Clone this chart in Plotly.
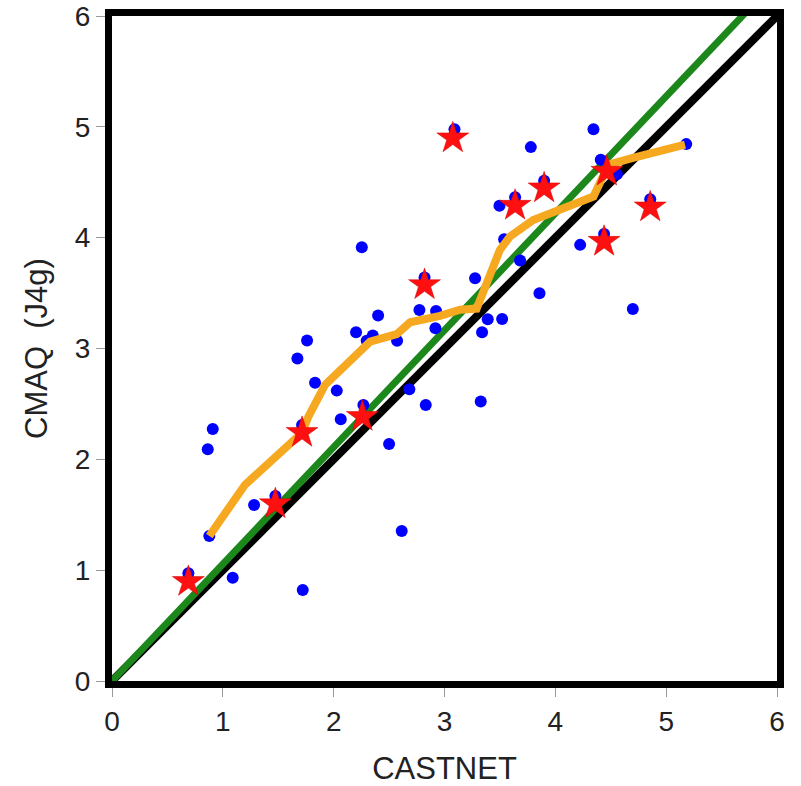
import plotly.graph_objects as go

# Blue dots: all sites (CASTNET obs vs CMAQ J4g)
obs_x = [0.689, 0.878, 0.864, 0.909, 1.089, 1.282, 1.474, 1.721, 1.715, 1.673,
         1.760, 1.832, 2.028, 2.064, 2.268, 2.202, 2.254, 2.298, 2.353, 2.401,
         2.500, 2.572, 2.614, 2.683, 2.774, 2.820, 2.831, 2.924, 2.918, 3.090,
         3.276, 3.327, 3.339, 3.390, 3.496, 3.520, 3.538, 3.637, 3.682, 3.779,
         3.857, 3.899, 4.224, 4.344, 4.410, 4.440, 4.555, 4.699, 4.856, 5.181]
mod_y = [0.972, 1.309, 2.091, 2.274, 0.932, 1.588, 1.670, 0.821, 2.310, 2.909,
         3.072, 2.692, 2.620, 2.362, 2.491, 3.147, 3.914, 3.069, 3.117, 3.297,
         2.139, 3.069, 1.354, 2.633, 3.348, 3.640, 2.491, 3.339, 3.183, 4.979,
         3.634, 2.521, 3.147, 3.264, 4.287, 3.267, 3.986, 4.365, 3.793, 4.817,
         3.499, 4.513, 3.935, 4.979, 4.702, 4.034, 4.573, 3.357, 4.347, 4.844]

# Red stars: highlighted sites
star_x = [0.689, 1.474, 1.715, 2.259, 2.820, 3.075, 3.637, 3.899, 4.440, 4.465, 4.856]
star_y = [0.896, 1.597, 2.241, 2.385, 3.574, 4.898, 4.290, 4.447, 3.965, 4.597, 4.275]

# Orange running-mean curve
curve_x = [0.878, 1.20, 1.715, 1.772, 1.922, 2.329, 2.569, 2.69, 2.96, 3.14,
           3.29, 3.50, 3.59, 3.80, 4.344, 4.42, 4.48, 4.70, 5.17]
curve_y = [1.309, 1.77, 2.240, 2.385, 2.671, 3.062, 3.129, 3.237, 3.294, 3.35,
           3.36, 3.89, 4.01, 4.16, 4.371, 4.52, 4.66, 4.72, 4.84]

# Reference lines
line_x = [0, 6]
one_to_one = [0, 6]
fit_slope = 1.055
fit_y = [fit_slope * v for v in line_x]

ticks = [0, 1, 2, 3, 4, 5, 6]

fig = go.Figure()
fig.add_trace(go.Scatter(x=line_x, y=one_to_one, mode="lines",
                         line=dict(color="black", width=8), showlegend=False))
fig.add_trace(go.Scatter(x=line_x, y=fit_y, mode="lines",
                         line=dict(color="#1c881c", width=7), showlegend=False))
fig.add_trace(go.Scatter(x=obs_x, y=mod_y, mode="markers",
                         marker=dict(color="#0000ff", size=12, line=dict(width=0)),
                         showlegend=False))
fig.add_trace(go.Scatter(x=curve_x, y=curve_y, mode="lines",
                         line=dict(color="#f6a820", width=8), showlegend=False))
fig.add_trace(go.Scatter(x=star_x, y=star_y, mode="markers",
                         marker=dict(symbol="star", color="#ff1010", size=24,
                                     line=dict(width=0.5, color="#d00000")),
                         showlegend=False))

axis_common = dict(range=[0, 6], tickvals=ticks, ticktext=[str(t) for t in ticks],
                   showgrid=False, zeroline=False, showline=True, linecolor="black",
                   linewidth=7, mirror=True, ticks="outside", ticklen=9,
                   tickcolor="#999999", tickwidth=1, automargin=False,
                   tickfont=dict(family="Liberation Sans", size=28, color="#222222"))

fig.update_layout(
    width=801, height=786,
    margin=dict(l=112, r=24, t=16, b=105),
    paper_bgcolor="white", plot_bgcolor="white",
    xaxis=dict(**axis_common,
               title=dict(text="CASTNET", standoff=24,
                          font=dict(family="Liberation Sans", size=31, color="#222222"))),
    yaxis=dict(**axis_common,
               title=dict(text="CMAQ  (J4g)", standoff=20,
                          font=dict(family="Liberation Sans", size=31, color="#222222"))),
)

fig.write_html("out.html")
